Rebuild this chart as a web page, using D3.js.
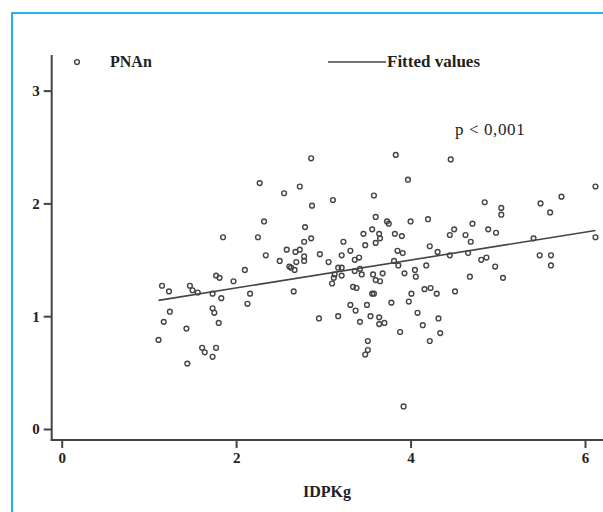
<!DOCTYPE html>
<html><head><meta charset="utf-8">
<script src="https://cdnjs.cloudflare.com/ajax/libs/d3/7.8.5/d3.min.js"></script>
<style>html,body{margin:0;padding:0;background:#fff;}svg{display:block;}</style>
</head><body>
<script>
// IDPKg (x) values
const idpkg = [1.85,2.10,1.77,1.81,1.97,1.15,1.23,1.47,1.50,1.56,1.73,1.83,1.24,1.73,1.75,1.17,1.80,1.43,1.11,1.61,1.64,1.77,1.73,1.44,2.25,2.27,2.16,2.13,
2.86,3.83,2.73,3.97,2.55,3.58,3.11,2.87,2.32,3.60,3.73,3.75,4.00,2.79,3.46,3.56,3.64,3.65,3.60,3.82,3.90,2.86,2.78,3.23,3.48,2.58,2.68,2.73,3.31,3.85,3.91,2.34,2.96,2.78,2.78,3.21,3.41,3.36,2.50,2.69,3.06,2.61,2.63,2.67,3.17,3.21,3.81,3.86,3.36,3.42,3.44,3.13,3.12,3.21,3.10,3.57,3.68,3.60,3.65,3.93,4.05,4.06,3.34,3.38,2.66,3.56,3.58,4.01,3.78,3.98,3.31,3.50,3.37,4.08,3.17,2.95,3.54,3.64,3.70,3.64,3.42,3.88,3.51,3.51,3.48,3.92,
4.46,6.12,5.73,5.49,4.85,5.04,5.04,5.60,4.20,4.71,4.89,4.98,4.50,4.45,4.63,4.69,5.41,6.12,4.22,4.31,4.45,4.66,5.48,5.61,4.81,4.87,5.61,4.18,4.97,4.68,5.06,4.16,4.23,4.30,4.51,4.14,4.32,4.34,4.22];
// PNAn (y) values
const pnan = [1.70,1.41,1.36,1.34,1.31,1.27,1.22,1.27,1.23,1.21,1.20,1.16,1.04,1.07,1.03,0.95,0.94,0.89,0.79,0.72,0.68,0.72,0.64,0.58,1.70,2.18,1.20,1.11,
2.40,2.43,2.15,2.21,2.09,2.07,2.03,1.98,1.84,1.88,1.84,1.82,1.84,1.79,1.73,1.77,1.73,1.69,1.65,1.73,1.71,1.69,1.66,1.66,1.63,1.59,1.57,1.59,1.58,1.58,1.56,1.54,1.55,1.53,1.49,1.54,1.52,1.50,1.49,1.48,1.48,1.44,1.43,1.41,1.43,1.43,1.49,1.45,1.40,1.42,1.37,1.37,1.34,1.36,1.29,1.37,1.38,1.32,1.31,1.38,1.41,1.35,1.26,1.25,1.22,1.20,1.20,1.20,1.12,1.13,1.10,1.10,1.05,1.03,1.00,0.98,1.00,0.99,0.94,0.93,0.95,0.86,0.78,0.70,0.66,0.20,
2.39,2.15,2.06,2.00,2.01,1.96,1.90,1.92,1.86,1.82,1.77,1.74,1.77,1.72,1.72,1.66,1.69,1.70,1.62,1.57,1.54,1.56,1.54,1.54,1.50,1.52,1.45,1.45,1.44,1.35,1.34,1.24,1.25,1.20,1.22,0.92,0.98,0.85,0.78];
// Fitted values (linear fit endpoints)
const fitX = [1.11, 6.12];
const fitY = [1.14, 1.76];
const xTicks = [0, 2, 4, 6];
const yTicks = [0, 1, 2, 3];
const xTitle = "IDPKg";
const legendPoints = "PNAn";
const legendFit = "Fitted values";
const note = "p < 0,001";

const W = 603, H = 512;
const svg = d3.select("body").append("svg").attr("width", W).attr("height", H);

// cyan frame
svg.append("rect").attr("x", 12).attr("y", 13).attr("width", 800).attr("height", 700)
  .attr("fill", "none").attr("stroke", "#22b4e8").attr("stroke-width", 2);

const x = d3.scaleLinear().domain([0, 6]).range([61.7, 585]);
const y = d3.scaleLinear().domain([0, 3]).range([429, 90.6]);
const axisY0 = 440, axisX0 = 51.7;

const font = "'Liberation Serif', 'DejaVu Serif', serif";

// x axis
const gx = svg.append("g").attr("transform", `translate(0,${axisY0})`)
  .call(d3.axisBottom(x).tickValues(xTicks).tickSize(8).tickPadding(4).tickFormat(d3.format("d")));
gx.select(".domain").remove();
gx.append("line").attr("x1", axisX0 - 1).attr("x2", W + 10).attr("stroke", "#444").attr("stroke-width", 2);
gx.selectAll(".tick line").attr("stroke", "#444").attr("stroke-width", 2);
gx.selectAll(".tick text").attr("fill", "#222").style("font-family", font).style("font-size", "15px").style("font-weight", "bold");

// y axis
const gy = svg.append("g").attr("transform", `translate(${axisX0},0)`)
  .call(d3.axisLeft(y).tickValues(yTicks).tickSize(8).tickPadding(4).tickFormat(d3.format("d")));
gy.select(".domain").remove();
gy.append("line").attr("y1", 55).attr("y2", axisY0 + 1).attr("stroke", "#444").attr("stroke-width", 2);
gy.selectAll(".tick line").attr("stroke", "#444").attr("stroke-width", 2);
gy.selectAll(".tick text").attr("fill", "#222").style("font-family", font).style("font-size", "15px").style("font-weight", "bold");

// points
const pts = idpkg.map((v, i) => [v, pnan[i]]);
svg.append("g").selectAll("circle").data(pts).join("circle")
  .attr("cx", d => x(d[0])).attr("cy", d => y(d[1])).attr("r", 2.4)
  .attr("fill", "none").attr("stroke", "#444").attr("stroke-width", 1.4);

// fitted line
svg.append("path").datum(fitX.map((v, i) => [v, fitY[i]]))
  .attr("d", d3.line().x(d => x(d[0])).y(d => y(d[1])))
  .attr("fill", "none").attr("stroke", "#444").attr("stroke-width", 1.6);

// legend
svg.append("circle").attr("cx", 77).attr("cy", 62).attr("r", 2.4)
  .attr("fill", "none").attr("stroke", "#444").attr("stroke-width", 1.4);
svg.append("text").attr("x", 110).attr("y", 67).text(legendPoints)
  .style("font-family", font).style("font-size", "16px").style("font-weight", "bold").attr("fill", "#222");
svg.append("line").attr("x1", 328).attr("x2", 386).attr("y1", 62).attr("y2", 62)
  .attr("stroke", "#444").attr("stroke-width", 1.6);
svg.append("text").attr("x", 387).attr("y", 67).text(legendFit)
  .style("font-family", font).style("font-size", "17px").style("font-weight", "bold").attr("fill", "#222");

// p-value note
svg.append("text").attr("x", 455).attr("y", 135).text(note)
  .style("font-family", font).style("font-size", "17px").style("letter-spacing", "0.6px").attr("fill", "#222");

// x title
svg.append("text").attr("x", 327).attr("y", 497).attr("text-anchor", "middle").text(xTitle)
  .style("font-family", font).style("font-size", "16px").style("font-weight", "bold").attr("fill", "#222");
</script>
</body></html>
